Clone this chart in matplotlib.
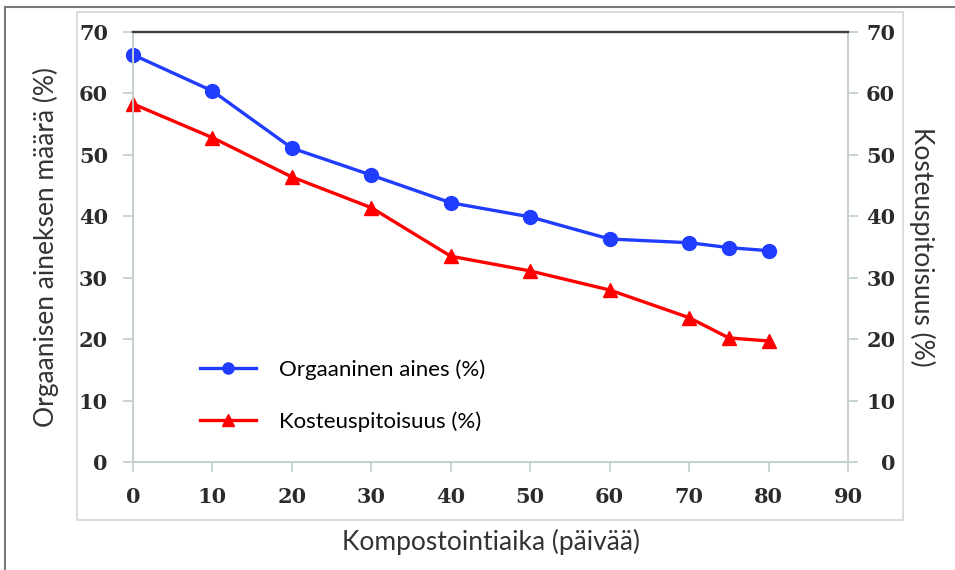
import matplotlib.pyplot as plt
from matplotlib.lines import Line2D
from matplotlib.patches import Rectangle

# data
days = [0, 10, 20, 30, 40, 50, 60, 70, 75, 80]
organic = [66.3, 60.4, 51.1, 46.7, 42.2, 39.9, 36.3, 35.7, 34.9, 34.4]
moisture = [58.3, 52.8, 46.4, 41.4, 33.5, 31.1, 28.0, 23.5, 20.2, 19.7]
x_ticks = [0, 10, 20, 30, 40, 50, 60, 70, 80, 90]
y_ticks = [0, 10, 20, 30, 40, 50, 60, 70]

label_font = 'Lato'
tick_font = 'DejaVu Serif'
axis_grey = '#c5d1d1'

W, H = 955, 570
fig = plt.figure(figsize=(W / 100, H / 100), dpi=100)

# frames around the picture
fig.add_artist(Line2D([5 / W, 5 / W], [0, 1 - 7 / H], transform=fig.transFigure,
                      color='#7a7a7a', lw=1.5))
fig.add_artist(Line2D([5 / W, 1], [1 - 7 / H, 1 - 7 / H], transform=fig.transFigure,
                      color='#7a7a7a', lw=1.5))
fig.add_artist(Rectangle((77 / W, 1 - 520 / H), (903 - 77) / W, (520 - 12) / H,
                         transform=fig.transFigure, fill=False,
                         edgecolor='#d6d6d6', lw=1.2))

ax = fig.add_axes([133 / W, 1 - 462 / H, (848 - 133) / W, (462 - 32) / H])
ax2 = ax.twinx()

l1, = ax.plot(days, organic, color='#1f3cff', lw=2.4, marker='o', markersize=10,
              label='Orgaaninen aines (%)', clip_on=False)
l2, = ax2.plot(days, moisture, color='#ff0000', lw=2.4, marker='^', markersize=10,
               label='Kosteuspitoisuus (%)', clip_on=False)

for a in (ax, ax2):
    a.set_xlim(0, 90)
    a.set_ylim(0, 70)
    for s in ('left', 'right', 'bottom'):
        a.spines[s].set_color(axis_grey)
        a.spines[s].set_linewidth(1.3)
    a.spines['top'].set_color('#404040')
    a.spines['top'].set_linewidth(1.6)

ax.set_xticks(x_ticks)
ax.set_yticks(y_ticks)
ax2.set_yticks(y_ticks)

tick_kw = dict(colors=axis_grey, labelcolor='#2b2b2b', length=7, width=1.3,
               labelsize=15)
ax.tick_params(axis='x', pad=11, **tick_kw)
ax.tick_params(axis='y', pad=11, **tick_kw)
ax2.tick_params(axis='y', pad=27, **tick_kw)
for lab in ax.get_xticklabels() + ax.get_yticklabels() + ax2.get_yticklabels():
    lab.set_fontfamily(tick_font)
    lab.set_fontweight('bold')
for lab in ax2.get_yticklabels():
    lab.set_horizontalalignment('right')

ax.set_xlabel('Kompostointiaika (päivää)', fontfamily=label_font, fontsize=19,
              color='#333333', labelpad=16)
ax.set_ylabel('Orgaanisen aineksen määrä (%)', fontfamily=label_font, fontsize=19,
              color='#333333', labelpad=14)
ax2.set_ylabel('Kosteuspitoisuus (%)', fontfamily=label_font, fontsize=19,
               color='#333333', rotation=270, labelpad=29)

leg = ax.legend(handles=[l1, l2], loc='upper left', bbox_to_anchor=(0.066, 0.285),
                frameon=False, prop={'family': label_font, 'size': 16},
                handlelength=2.5, handletextpad=1.05, labelspacing=1.4,
                markerscale=0.8)

fig.savefig('out.png', dpi=100)
